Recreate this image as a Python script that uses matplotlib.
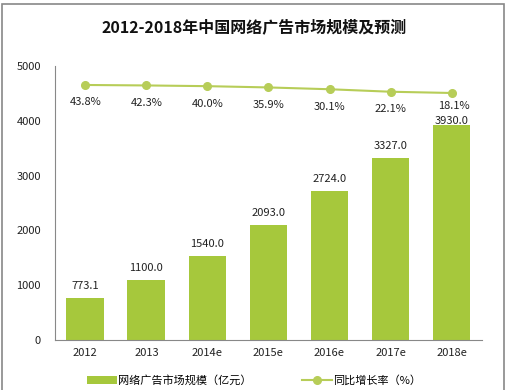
import matplotlib
matplotlib.use("Agg")
import matplotlib.pyplot as plt
from matplotlib.patches import Rectangle

plt.rcParams['font.family'] = ['Noto Sans CJK SC', 'DejaVu Sans']

years = ["2012", "2013", "2014e", "2015e", "2016e", "2017e", "2018e"]
market_size = [773.1, 1100.0, 1540.0, 2093.0, 2724.0, 3327.0, 3930.0]
growth_rate = [43.8, 42.3, 40.0, 35.9, 30.1, 22.1, 18.1]

bar_color = "#a6c83c"
line_color = "#b7cd58"

fig = plt.figure(figsize=(5.08, 3.9), dpi=100)
ax = fig.add_axes([0.108, 0.128, 0.841, 0.703])

x = range(len(years))
ax.bar(x, market_size, width=0.62, color=bar_color, zorder=2,
       label="网络广告市场规模（亿元）")
last = len(years) - 1
for i, v in enumerate(market_size):
    # last label sits tight against the bar, as in the original
    off = -0.8 if i == last else 5
    ax.annotate(f"{v:.1f}", (i, v), xytext=(0, off), textcoords="offset points",
                ha="center", va="bottom", fontsize=8, color="#222222")

ax.set_xlim(-0.5, len(years) - 0.5)
ax.set_ylim(0, 5000)
ax.set_yticks([0, 1000, 2000, 3000, 4000, 5000])
ax.set_xticks(list(x))
ax.set_xticklabels(years)
ax.tick_params(length=0, labelsize=8, colors="#222222")
ax.tick_params(axis="y", pad=10)
ax.tick_params(axis="x", pad=6)
for s in ["top", "right"]:
    ax.spines[s].set_visible(False)
for s in ["left", "bottom"]:
    ax.spines[s].set_color("#888888")
    ax.spines[s].set_linewidth(0.8)

ax2 = ax.twinx()
ax2.plot(x, growth_rate, color=line_color, lw=1.5, marker="o", ms=5.5,
         mfc=line_color, mec=line_color, zorder=3, label="同比增长率（%）")
ax2.set_ylim(-775, 105)
ax2.axis("off")
for i, v in enumerate(growth_rate):
    dx, dy = (2, -6) if i == last else (0, -9)
    ax2.annotate(f"{v:.1f}%", (i, v), xytext=(dx, dy), textcoords="offset points",
                 ha="center", va="top", fontsize=8, color="#222222")

fig.text(0.5, 0.928, "2012-2018年中国网络广告市场规模及预测", ha="center", va="center",
         fontsize=11.5, fontweight="bold", color="#111111")

h1, l1 = ax.get_legend_handles_labels()
h2, l2 = ax2.get_legend_handles_labels()
fig.legend(h1 + h2, l1 + l2, loc="center", bbox_to_anchor=(0.5, 0.025), ncol=2,
           frameon=False, fontsize=8, handlelength=2.7, handleheight=0.7,
           columnspacing=4.5, handletextpad=0.1)

fig.patches.append(Rectangle((0.004, -0.01), 0.988, 1.0, transform=fig.transFigure,
                             fill=False, edgecolor="#888888", lw=1.2))

fig.savefig("out.png", dpi=100)
